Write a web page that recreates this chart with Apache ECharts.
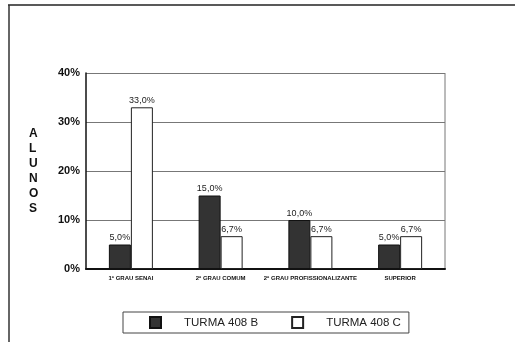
<!DOCTYPE html>
<html>
<head>
<meta charset="utf-8">
<script src="https://cdn.jsdelivr.net/npm/echarts@6/dist/echarts.min.js"></script>
<style>
  html, body { margin: 0; padding: 0; background: #fff; }
  #chart { width: 515px; height: 342px; }
</style>
</head>
<body>
<div id="chart"></div>
<script>
// data
const categories = ['1º GRAU SENAI', '2º GRAU COMUM', '2º GRAU PROFISSIONALIZANTE', 'SUPERIOR']
const turmaB = [5.0, 15.0, 10.0, 5.0]
const turmaC = [33.0, 6.7, 6.7, 6.7]
const seriesNames = ['TURMA 408 B', 'TURMA 408 C']

const chart = echarts.init(document.getElementById('chart'))

const fontFamily = '"Liberation Sans", Arial, sans-serif'

const labelFmt = p => p.value.toFixed(1).replace('.', ',') + '%'

const option = {
  backgroundColor: '#fff',
  animation: false,
  grid: { left: 86, right: 70, top: 73, bottom: 73 },
  legend: {
    data: seriesNames,
    left: 123,
    top: 312,
    orient: 'horizontal',
    padding: [4, 8, 4, 26],
    itemGap: 33,
    itemWidth: 11,
    itemHeight: 11,
    borderColor: '#444',
    borderWidth: 1,
    icon: 'rect',
    textStyle: {
      fontFamily: fontFamily,
      fontSize: 11.5,
      color: '#222',
      padding: [0, 0, 0, 18]
    }
  },
  xAxis: {
    type: 'category',
    data: categories,
    axisLine: { lineStyle: { color: '#111', width: 2 } },
    axisTick: { show: false },
    axisLabel: {
      interval: 0,
      fontFamily: fontFamily,
      fontSize: 6,
      fontWeight: 'bold',
      color: '#111',
      margin: 6
    }
  },
  yAxis: {
    type: 'value',
    min: 0,
    max: 40,
    interval: 10,
    axisLine: { show: true, lineStyle: { color: '#111', width: 1.5 } },
    axisTick: { show: false },
    axisLabel: {
      fontFamily: fontFamily,
      fontSize: 11,
      fontWeight: 'bold',
      color: '#111',
      margin: 6,
      formatter: '{value}%'
    },
    splitLine: { lineStyle: { color: '#777', width: 1 } }
  },
  graphic: [
    { type: 'line', shape: { x1: 8, y1: 5, x2: 515, y2: 5 }, style: { stroke: '#222', lineWidth: 1.5 } },
    { type: 'line', shape: { x1: 9, y1: 5, x2: 9, y2: 342 }, style: { stroke: '#333', lineWidth: 1.5 } },
    { type: 'line', shape: { x1: 445, y1: 73, x2: 445, y2: 269 }, style: { stroke: '#777', lineWidth: 1 } },
    {
      type: 'text',
      left: 29,
      top: 126,
      style: {
        text: 'A\nL\nU\nN\nO\nS',
        font: 'bold 12px ' + fontFamily,
        fill: '#111',
        lineHeight: 15,
        align: 'center'
      }
    }
  ],
  series: [
    {
      name: seriesNames[0],
      type: 'bar',
      data: turmaB,
      barWidth: 22,
      barGap: '0%',
      itemStyle: { color: '#333', borderColor: '#111', borderWidth: 1 },
      label: {
        show: true,
        position: 'top',
        distance: 2,
        fontFamily: fontFamily,
        fontSize: 9,
        color: '#222',
        formatter: labelFmt
      }
    },
    {
      name: seriesNames[1],
      type: 'bar',
      data: turmaC,
      barWidth: 22,
      barGap: '0%',
      itemStyle: { color: '#fff', borderColor: '#222', borderWidth: 1 },
      label: {
        show: true,
        position: 'top',
        distance: 2,
        fontFamily: fontFamily,
        fontSize: 9,
        color: '#222',
        formatter: labelFmt
      }
    }
  ]
}

chart.setOption(option)
</script>
</body>
</html>
